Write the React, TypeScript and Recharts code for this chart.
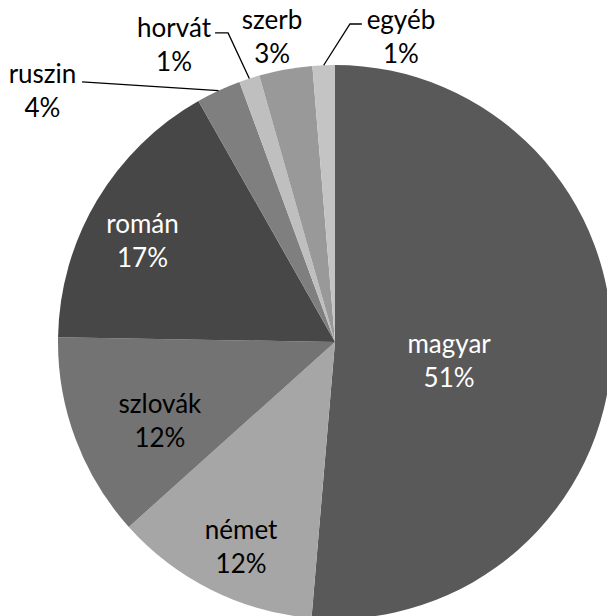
import React from 'react';
import { PieChart, Pie, Cell } from 'recharts';

const categories = ['magyar', 'német', 'szlovák', 'román', 'ruszin', 'horvát', 'szerb', 'egyéb'];
const values = [51.3, 12.0, 11.9, 16.5, 2.6, 1.2, 3.1, 1.3];
const percentLabels = ['51%', '12%', '12%', '17%', '4%', '1%', '3%', '1%'];

const colors = ['#595959', '#a6a6a6', '#737373', '#474747', '#7f7f7f', '#bfbfbf', '#999999', '#c4c4c4'];
const textColors = ['#ffffff', '#000000', '#000000', '#ffffff', '#000000', '#000000', '#000000', '#000000'];

// label anchor (text centre x, first baseline y) relative to pie centre, in units of outer radius
const labelAnchors: number[][] = [
  [0.412, 0.04],
  [-0.339, 0.711],
  [-0.632, 0.256],
  [-0.695, -0.394],
  [-1.056, -0.935],
  [-0.581, -1.101],
  [-0.227, -1.13],
  [0.238, -1.13],
];
// leader line points after the arc point, relative to pie centre, in units of outer radius
const leaders: (number[][] | null)[] = [
  null,
  null,
  null,
  null,
  [[-0.913, -0.939]],
  [[-0.386, -1.116], [-0.433, -1.116]],
  null,
  [[0.054, -1.148], [0.097, -1.148]],
];

const data = categories.map((name, i) => ({ name, value: values[i] }));

const FONT = 'Lato, "Open Sans", sans-serif';

const renderLabel = (props: any) => {
  const { cx, cy, midAngle, outerRadius, index } = props;
  const R = outerRadius;
  const [ax, ay] = labelAnchors[index];
  const x = cx + ax * R;
  const y = cy + ay * R;
  const lead = leaders[index];
  let line = null;
  if (lead) {
    const rad = Math.PI / 180;
    const sx = cx + R * Math.cos(-midAngle * rad);
    const sy = cy + R * Math.sin(-midAngle * rad);
    const pts = [[sx, sy], ...lead.map(([px, py]) => [cx + px * R, cy + py * R])];
    line = (
      <polyline
        points={pts.map((p) => p.join(',')).join(' ')}
        fill="none"
        stroke="#000000"
        strokeWidth={1.3}
      />
    );
  }
  return (
    <g key={`lbl-${index}`}>
      {line}
      <text x={x} y={y} textAnchor="middle" fill={textColors[index]} fontSize={26} fontFamily={FONT}>
        <tspan x={x} y={y}>{categories[index]}</tspan>
        <tspan x={x} y={y + 34}>{percentLabels[index]}</tspan>
      </text>
    </g>
  );
};

export default function App() {
  return (
    <div style={{ position: 'absolute', left: 0, top: 0, width: 607, height: 616, background: '#ffffff' }}>
      <PieChart width={607} height={616} margin={{ top: 0, right: 0, bottom: 0, left: 0 }}>
        <Pie
          data={data}
          dataKey="value"
          nameKey="name"
          cx={335}
          cy={342}
          outerRadius={277}
          startAngle={90}
          endAngle={-270}
          stroke="none"
          label={renderLabel}
          labelLine={false}
          isAnimationActive={false}
        >
          {data.map((d, i) => (
            <Cell key={d.name} fill={colors[i]} stroke="none" />
          ))}
        </Pie>
      </PieChart>
    </div>
  );
}
